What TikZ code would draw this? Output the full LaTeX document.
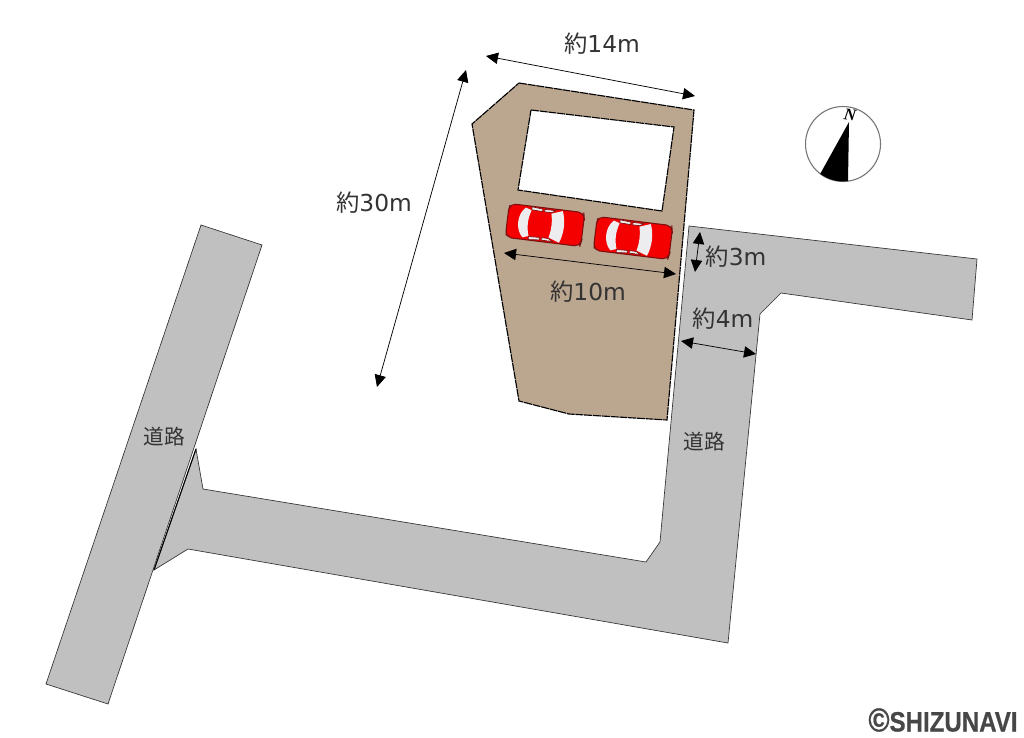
\documentclass[tikz,border=0pt]{standalone}
\usepackage{fontspec}
\usetikzlibrary{arrows.meta}
\newfontfamily\jpfont{Noto Sans CJK JP}
\newfontfamily\latinfont{DejaVu Sans}
\newfontfamily\logofont[FakeStretch=0.86,FakeBold=0.6]{Liberation Sans Bold}
\newfontfamily\compassfont{Liberation Serif Bold Italic}
\newcommand{\yaku}{{\jpfont 約}}
\definecolor{roadgray}{HTML}{C0C0C0}
\definecolor{lotbrown}{HTML}{BBA68F}
\definecolor{carred}{HTML}{F50000}
\definecolor{cardark}{HTML}{7A1010}
\definecolor{glass}{HTML}{EDEDF0}
\definecolor{textgray}{HTML}{333333}
\tikzset{
  road/.style={fill=roadgray,draw=black!80,line width=0.5pt,line join=miter},
  lot/.style={fill=lotbrown,draw=black,line width=0.85pt,dash pattern=on 6pt off 0.6pt},
  house/.style={fill=white,draw=black,line width=0.85pt,dash pattern=on 6pt off 0.6pt},
  dim/.style={draw=black,line width=0.55pt,{Triangle[length=9pt,width=8.5pt]}-{Triangle[length=9pt,width=8.5pt]}},
  lbl/.style={font=\latinfont\fontsize{17.5}{19}\selectfont,text=textgray,inner sep=0pt},
  roadlbl/.style={font=\jpfont\fontsize{15.5}{17}\selectfont,text=textgray,inner sep=0pt},
  carbody/.style={fill=carred,draw=cardark,line width=0.8pt,rounded corners=4pt},
  carglass/.style={fill=glass,draw=none},
  carside/.style={fill=glass,draw=cardark,line width=0.5pt}
}
\newcommand{\carshape}[2]{%
\begin{scope}[shift={(#1,#2)},rotate=-7]
  \path[carbody] (-37,-17) -- (37,-17) -- (38,-12) -- (38,12) -- (37,17) -- (-37,17) -- (-38,10) -- (-38,-10) -- cycle;
  \path[carglass] (-21,-15) .. controls (-29,-8) and (-29,8) .. (-21,15) -- (-15,13) .. controls (-18,4) and (-18,-4) .. (-15,-13) -- cycle;
  \path[carglass] (5,-12) -- (16,-16) .. controls (20,-6) and (20,6) .. (16,16) -- (5,12) .. controls (7,4) and (7,-4) .. (5,-12) -- cycle;
  \path[carside] (-15,-16.5) -- (-4,-15.5) -- (-4,-13) -- (-15,-13.5) -- cycle;
  \path[carside] (-2,-15.5) -- (9,-15.5) -- (5,-13) -- (-2,-13) -- cycle;
  \path[carside] (-15,16.5) -- (-4,15.5) -- (-4,13) -- (-15,13.5) -- cycle;
  \path[carside] (-2,15.5) -- (9,15.5) -- (5,13) -- (-2,13) -- cycle;
\end{scope}}
\begin{document}
\begin{tikzpicture}[x=0.75pt,y=-0.75pt]
\useasboundingbox (0,0) rectangle (1024,738);
\fill[white] (0,0) rectangle (1024,738);
% roads
\path[road] (689,226) -- (977,259) -- (972,320) -- (781,293) -- (760,314) -- (728,643) -- (188,549) -- (154,570) -- (196,449) -- (203,489) -- (646,562) -- (660,542) -- cycle;
\path[road] (201,225) -- (262,245) -- (108,704) -- (46,684) -- cycle;
\draw[black,line width=0.8pt] (196,449) -- (154,570);
% lot
\path[lot] (519,83) -- (694,110) -- (667,420) -- (569,414) -- (519,401) -- (472,124) -- cycle;
\path[house] (531,110) -- (674,127) -- (662,211) -- (518,190) -- cycle;
% cars
\carshape{545}{225}
\carshape{633}{238}
% compass
\draw[black!55,line width=0.8pt] (843,144) circle[radius=37.5];
\fill[black] (849,122) -- (848,181) arc[start angle=82,end angle=127,radius=37.5] -- cycle;
\node[font=\compassfont\fontsize{12.5}{13}\selectfont,rotate=-8,inner sep=0pt] (north) at (850,115) {N};
% dimensions
\coordinate (a1) at (486,56); \coordinate (a2) at (695,96);
\coordinate (b1) at (466,70); \coordinate (b2) at (377,387);
\coordinate (c1) at (504,253); \coordinate (c2) at (676,274);
\coordinate (d1) at (700,232); \coordinate (d2) at (695,272);
\coordinate (e1) at (681,341); \coordinate (e2) at (756,354);
\draw[dim] (a1) -- (a2);
\draw[dim] (b1) -- (b2);
\draw[dim] (c1) -- (c2);
\draw[dim] (d1) -- (d2);
\draw[dim] (e1) -- (e2);
% labels
\node[lbl] (l14) at (602,44) {\yaku 14m};
\node[lbl] (l30) at (374,203) {\yaku 30m};
\node[lbl] (l10) at (588,292) {\yaku 10m};
\node[lbl] (l3) at (736,257) {\yaku 3m};
\node[lbl] (l4) at (723,319) {\yaku 4m};
\node[roadlbl] (r1) at (164,437) {道路};
\node[roadlbl] (r2) at (704,442) {道路};
\node[font=\logofont\fontsize{21}{23}\selectfont,text=black!72,inner sep=0pt] (logo) at (943,720) {{\fontsize{25}{23}\selectfont ©}SHIZUNAVI};
\end{tikzpicture}
\end{document}
